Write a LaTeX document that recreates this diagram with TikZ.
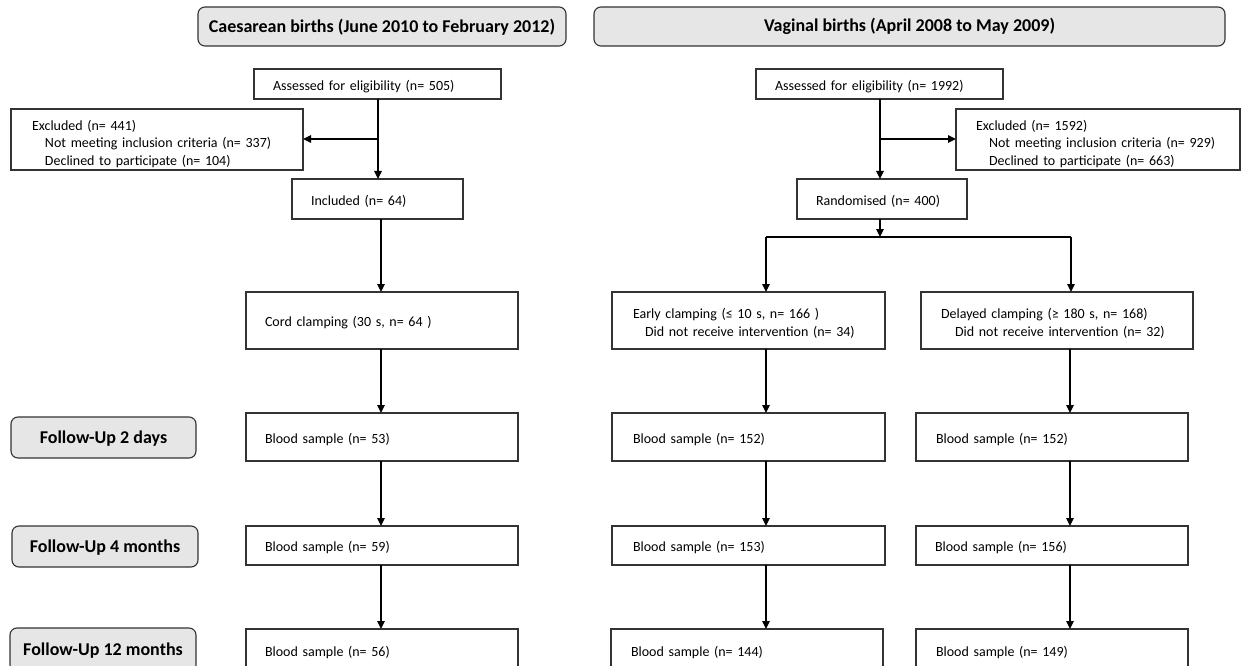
\documentclass[tikz,border=0pt]{standalone}
\usepackage{fontspec}
\setmainfont{Carlito}
\usetikzlibrary{arrows.meta,calc}
\definecolor{hdrfill}{HTML}{E6E6E6}
\definecolor{edge}{HTML}{333333}
\newcommand\st[1]{\rule{0pt}{#1pt}}
\tikzset{
  box/.style={draw=edge, line width=1.3pt, fill=white, align=left, inner ysep=0pt, outer sep=0pt, font=\fontsize{14}{17.5}\selectfont, execute at begin node={\st{15}}},
  hdr/.style={draw=edge, line width=1.1pt, fill=hdrfill, rounded corners=7pt, inner sep=0pt, outer sep=0pt, font=\bfseries\fontsize{18}{21}\selectfont},
  arr/.style={draw=black, line width=1.3pt, -{Triangle[length=8pt,width=7.5pt]}},
  ln/.style={draw=black, line width=1.3pt}
}
\newcommand\mybox[7]{%
  \pgfmathsetmacro\bw{#4-#2}\pgfmathsetmacro\bh{#5-#3}\pgfmathsetmacro\tw{#4-#2-2*#6}%
  \node[box, minimum width=\bw pt, minimum height=\bh pt, text width=\tw pt, inner xsep=#6pt] (#1) at ({(#2+#4)/2},{(#3+#5)/2}) {#7};}
\newcommand\myhdr[6]{%
  \pgfmathsetmacro\bw{#4-#2}\pgfmathsetmacro\bh{#5-#3}%
  \node[hdr, minimum width=\bw pt, minimum height=\bh pt] (#1) at ({(#2+#4)/2},{(#3+#5)/2}) {\st{14}#6};}
\begin{document}
\begin{tikzpicture}[x=1pt,y=-1pt]
\useasboundingbox (0,0) rectangle (1243,666);
\clip (0,0) rectangle (1243,666);
% headers
\myhdr{hc}{198}{7}{566}{46}{Caesarean births (June 2010 to February 2012)}
\myhdr{hv}{594}{7}{1225}{46}{Vaginal births (April 2008 to May 2009)}
\myhdr{f2}{11}{417}{196}{458}{Follow-Up 2 days}
\myhdr{f4}{12}{526}{198}{567}{Follow-Up 4 months}
\myhdr{f12}{10}{628}{196}{672}{Follow-Up 12 months}
% caesarean column
\mybox{a1}{254}{69}{501}{99}{19}{Assessed for eligibility (n= 505)}
\mybox{e1}{11}{109}{303}{170}{21}{\st{19}Excluded (n= 441)\\\hspace*{13pt}Not meeting inclusion criteria (n= 337)\\\hspace*{13pt}Declined to participate (n= 104)}
\mybox{i1}{292}{179}{463}{219}{19}{Included (n= 64)}
\mybox{c1}{246}{292}{518}{349}{19}{Cord clamping (30 s, n= 64 )}
\mybox{b1}{246}{413}{518}{461}{19}{Blood sample (n= 53)}
\mybox{b2}{246}{526}{518}{565}{19}{Blood sample (n= 59)}
\mybox{b3}{246}{629}{518}{672}{19}{Blood sample (n= 56)}
% vaginal column
\mybox{a2}{756}{69}{1003}{99}{19}{Assessed for eligibility (n= 1992)}
\mybox{e2}{956}{109}{1240}{170}{20}{\st{19}Excluded (n= 1592)\\\hspace*{13pt}Not meeting inclusion criteria (n= 929)\\\hspace*{13pt}Declined to participate (n= 663)}
\mybox{r2}{797}{179}{967}{219}{19}{Randomised (n= 400)}
\mybox{ec}{612}{292}{885}{349}{21}{\st{16}Early clamping (≤ 10 s, n= 166 )\\\hspace*{12pt}Did not receive intervention (n= 34)}
\mybox{dc}{921}{292}{1193}{349}{20}{\st{16}Delayed clamping (≥ 180 s, n= 168)\\\hspace*{14pt}Did not receive intervention (n= 32)}
\mybox{el1}{612}{413}{885}{461}{21}{Blood sample (n= 152)}
\mybox{el2}{612}{526}{885}{565}{21}{Blood sample (n= 153)}
\mybox{el3}{611}{629}{883}{672}{20}{Blood sample (n= 144)}
\mybox{dl1}{916}{413}{1188}{461}{20}{Blood sample (n= 152)}
\mybox{dl2}{916}{526}{1188}{565}{19}{Blood sample (n= 156)}
\mybox{dl3}{916}{629}{1188}{672}{20}{Blood sample (n= 149)}
% coordinates
\coordinate (s1) at (378,139);
\coordinate (s2) at (880,139);
\coordinate (sp) at (880,237);
\coordinate (spl) at (766,237);
\coordinate (spr) at (1071,237);
\coordinate (i1b) at (381,219);
\coordinate (dx) at (1070,0);
% connectors caesarean
\draw[arr] (s1 |- a1.south) -- (s1 |- i1.north);
\draw[arr] (s1) -- (e1.east |- s1);
\draw[arr] (i1b) -- (i1b |- c1.north);
\draw[arr] (c1.south -| i1b) -- (b1.north -| i1b);
\draw[arr] (b1.south -| i1b) -- (b2.north -| i1b);
\draw[arr] (b2.south -| i1b) -- (b3.north -| i1b);
% connectors vaginal
\draw[arr] (s2 |- a2.south) -- (s2 |- r2.north);
\draw[arr] (s2) -- (e2.west |- s2);
\draw[arr] (r2.south -| sp) -- (sp);
\draw[ln] (spl) -- (spr);
\draw[arr] (spl) -- (spl |- ec.north);
\draw[arr] (spr) -- (spr |- dc.north);
\draw[arr] (ec.south -| spl) -- (el1.north -| spl);
\draw[arr] (el1.south -| spl) -- (el2.north -| spl);
\draw[arr] (el2.south -| spl) -- (el3.north -| spl);
\draw[arr] (dc.south -| dx) -- (dl1.north -| dx);
\draw[arr] (dl1.south -| dx) -- (dl2.north -| dx);
\draw[arr] (dl2.south -| dx) -- (dl3.north -| dx);
\end{tikzpicture}
\end{document}
